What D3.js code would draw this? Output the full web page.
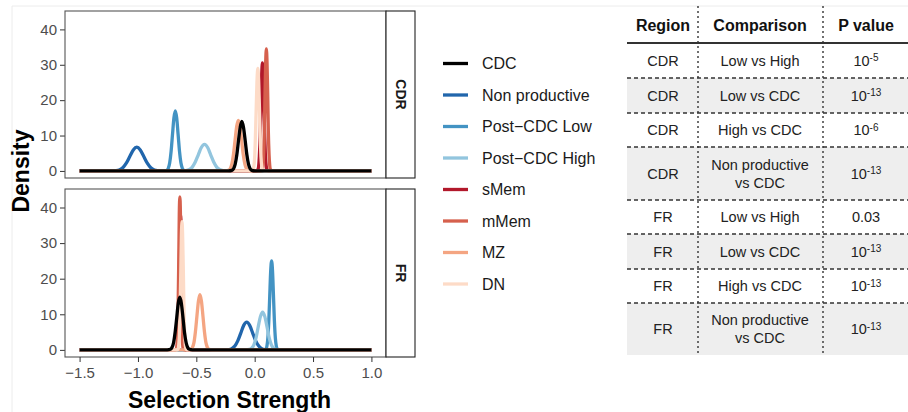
<!DOCTYPE html>
<html>
<head>
<meta charset="utf-8">
<script src="https://cdnjs.cloudflare.com/ajax/libs/d3/7.8.5/d3.min.js"></script>
<style>
  body { margin: 0; background: #fff; }
  text { font-family: "Liberation Sans", Arial, Helvetica, sans-serif; }
</style>
</head>
<body>
<script>
//__legend groups, in legend order__//
var groups = ['CDC', 'Non productive', 'Post\u2212CDC Low', 'Post\u2212CDC High', 'sMem', 'mMem', 'MZ', 'DN'];
var groupColors = ['#000000', '#2166ac', '#4393c3', '#92c5de', '#b2182b', '#d6604d', '#f4a582', '#fddbc7'];
var panels = ['CDR', 'FR'];
var xTicks = [-1.5, -1.0, -0.5, 0.0, 0.5, 1.0];
var yTicks = [0, 10, 20, 30, 40];

//__density curves, [selection strength, density]__//
var cdrNonProductive = [[-1.5,0],[-1.22,0],[-1.19,0.07],[-1.16,0.29],[-1.13,0.91],[-1.10,2.18],[-1.07,4.06],[-1.04,5.91],[-1.01,6.7],[-0.98,5.91],[-0.95,4.06],[-0.92,2.18],[-0.89,0.91],[-0.86,0.29],[-0.83,0.07],[-0.80,0],[1.0,0]];
var cdrPostLow = [[-1.5,0],[-0.776,0],[-0.752,0.19],[-0.74,0.75],[-0.728,2.3],[-0.716,5.52],[-0.704,10.31],[-0.692,15.0],[-0.68,17],[-0.668,15.0],[-0.656,10.31],[-0.644,5.52],[-0.632,2.3],[-0.62,0.75],[-0.608,0.19],[-0.584,0],[1.0,0]];
var cdrPostHigh = [[-1.5,0],[-0.615,0],[-0.589,0.08],[-0.563,0.33],[-0.536,1.01],[-0.51,2.44],[-0.483,4.55],[-0.457,6.62],[-0.43,7.5],[-0.403,6.62],[-0.377,4.55],[-0.35,2.44],[-0.324,1.01],[-0.297,0.33],[-0.271,0.08],[-0.245,0],[1.0,0]];
var cdrSMem = [[-1.5,0],[0.014,0],[0.027,0.34],[0.034,1.34],[0.040,4.13],[0.047,9.9],[0.053,18.5],[0.060,26.9],[0.066,30.5],[0.073,26.9],[0.079,18.5],[0.086,9.9],[0.092,4.13],[0.099,1.34],[0.105,0.34],[0.118,0],[1.0,0]];
var cdrMMem = [[-1.5,0],[0.053,0],[0.065,0.38],[0.071,1.52],[0.077,4.67],[0.083,11.2],[0.088,20.9],[0.094,30.4],[0.10,34.5],[0.106,30.4],[0.112,20.9],[0.117,11.2],[0.123,4.67],[0.129,1.52],[0.135,0.38],[0.147,0],[1.0,0]];
var cdrMZ = [[-1.5,0],[-0.252,0],[-0.224,0.16],[-0.21,0.63],[-0.196,1.93],[-0.182,4.65],[-0.168,8.67],[-0.154,12.6],[-0.14,14.3],[-0.126,12.6],[-0.112,8.67],[-0.098,4.65],[-0.084,1.93],[-0.07,0.63],[-0.056,0.16],[-0.028,0],[1.0,0]];
var cdrDN = [[-1.5,0],[-0.028,0],[-0.014,0.32],[-0.007,1.27],[0.0,3.92],[0.006,9.42],[0.013,17.6],[0.02,25.6],[0.027,29],[0.034,25.6],[0.041,17.6],[0.048,9.42],[0.054,3.92],[0.061,1.27],[0.068,0.32],[0.082,0],[1.0,0]];
var cdrCDC = [[-1.5,0],[-0.225,0],[-0.196,0.16],[-0.181,0.62],[-0.167,1.89],[-0.153,4.55],[-0.139,8.49],[-0.124,12.36],[-0.11,14],[-0.096,12.36],[-0.081,8.49],[-0.067,4.55],[-0.053,1.89],[-0.039,0.62],[-0.025,0.16],[0.004,0],[1.0,0]];

var frNonProductive = [[-1.5,0],[-0.272,0],[-0.221,0.09],[-0.196,0.34],[-0.17,1.06],[-0.145,2.53],[-0.119,4.73],[-0.094,6.88],[-0.068,7.8],[-0.043,6.88],[-0.017,4.73],[0.009,2.53],[0.035,1.06],[0.06,0.34],[0.085,0.09],[0.136,0],[1.0,0]];
var frPostLow = [[-1.5,0],[0.081,0],[0.097,0.28],[0.105,1.1],[0.113,3.38],[0.121,8.12],[0.129,15.16],[0.137,22.06],[0.145,25],[0.153,22.06],[0.161,15.16],[0.169,8.12],[0.177,3.38],[0.185,1.1],[0.193,0.28],[0.209,0],[1.0,0]];
var frPostHigh = [[-1.5,0],[-0.083,0],[-0.045,0.12],[-0.026,0.47],[-0.007,1.43],[0.012,3.44],[0.030,6.43],[0.049,9.35],[0.068,10.6],[0.087,9.35],[0.106,6.43],[0.124,3.44],[0.143,1.43],[0.162,0.47],[0.181,0.12],[0.219,0],[1.0,0]];
var frSMem = [[-1.5,0],[-0.678,0],[-0.667,0.42],[-0.661,1.67],[-0.656,5.14],[-0.651,12.34],[-0.646,23.05],[-0.640,33.5],[-0.635,38],[-0.630,33.5],[-0.625,23.05],[-0.619,12.34],[-0.614,5.14],[-0.609,1.67],[-0.604,0.42],[-0.593,0],[1.0,0]];
var frMMem = [[-1.5,0],[-0.678,0],[-0.669,0.47],[-0.664,1.89],[-0.66,5.82],[-0.655,13.96],[-0.65,26.08],[-0.646,37.95],[-0.641,43],[-0.636,37.95],[-0.632,26.08],[-0.627,13.96],[-0.622,5.82],[-0.618,1.89],[-0.613,0.47],[-0.604,0],[1.0,0]];
var frMZ = [[-1.5,0],[-0.572,0],[-0.546,0.17],[-0.533,0.68],[-0.52,2.1],[-0.508,5.03],[-0.495,9.4],[-0.482,13.68],[-0.469,15.5],[-0.456,13.68],[-0.443,9.4],[-0.43,5.03],[-0.418,2.1],[-0.405,0.68],[-0.392,0.17],[-0.366,0],[1.0,0]];
var frDN = [[-1.5,0],[-0.666,0],[-0.655,0.4],[-0.65,1.58],[-0.644,4.87],[-0.639,11.7],[-0.633,21.85],[-0.628,31.8],[-0.622,36],[-0.617,31.8],[-0.611,21.85],[-0.606,11.7],[-0.6,4.87],[-0.595,1.58],[-0.589,0.4],[-0.578,0],[1.0,0]];
var frCDC = [[-1.5,0],[-0.749,0],[-0.722,0.16],[-0.709,0.65],[-0.695,2.0],[-0.682,4.81],[-0.668,8.98],[-0.655,13.06],[-0.641,14.8],[-0.628,13.06],[-0.614,8.98],[-0.601,4.81],[-0.587,2.0],[-0.574,0.65],[-0.56,0.16],[-0.533,0],[1.0,0]];

//__table values__//
var tableHeader = ['Region', 'Comparison', 'P value'];
var tableRegion = ['CDR', 'CDR', 'CDR', 'CDR', 'FR', 'FR', 'FR', 'FR'];
var tableComparison = [['Low vs High'], ['Low vs CDC'], ['High vs CDC'], ['Non productive', 'vs CDC'],
                       ['Low vs High'], ['Low vs CDC'], ['High vs CDC'], ['Non productive', 'vs CDC']];
var tableBase = ['10', '10', '10', '10', '0.03', '10', '10', '10'];
var tableExp = ['-5', '-13', '-6', '-13', '', '-13', '-13', '-13'];

// curves per panel, drawn back to front (CDC on top)
var curves = {
    CDR: [[cdrNonProductive, 1], [cdrPostLow, 2], [cdrPostHigh, 3], [cdrSMem, 4], [cdrMMem, 5], [cdrMZ, 6], [cdrDN, 7], [cdrCDC, 0]],
    FR:  [[frNonProductive, 1], [frPostLow, 2], [frPostHigh, 3], [frSMem, 4], [frMMem, 5], [frMZ, 6], [frDN, 7], [frCDC, 0]]
};

var width = 908, height = 412;

var svg = d3.select('body').append('svg')
    .attr('width', width)
    .attr('height', height);

svg.append('rect').attr('width', width).attr('height', height).attr('fill', '#fff');
// faint border of the original image
svg.append('path')
    .attr('d', 'M12,412 V6 H908')
    .attr('fill', 'none')
    .attr('stroke', '#ececec')
    .attr('stroke-width', 1);

//__panel geometry__//
var plotLeft = 65, plotRight = 386, stripRight = 415;
var panelBox = { CDR: [11, 178], FR: [189, 357] };

var x = d3.scaleLinear()
    .domain([-1.625, 1.125])
    .range([plotLeft, plotRight]);

var line = d3.line()
    .x(function(d) { return x(d[0]); })
    .curve(d3.curveMonotoneX);

panels.forEach(function(p, i) {
    var top = panelBox[p][0], bottom = panelBox[p][1];
    var y = d3.scaleLinear()
        .domain([-2, 45.2])
        .range([bottom, top]);

    var g = svg.append('g');

    // y axis
    var yAxis = g.append('g')
        .attr('transform', 'translate(' + plotLeft + ',0)')
        .call(d3.axisLeft(y).tickValues(yTicks).tickSizeInner(5).tickSizeOuter(0).tickPadding(3));
    yAxis.select('.domain').remove();
    yAxis.selectAll('line').attr('stroke', '#333');
    yAxis.selectAll('text').attr('fill', '#4d4d4d').style('font-size', '15px')
        .style('font-family', '"Liberation Sans", Arial, sans-serif');

    // curves
    curves[p].forEach(function(c) {
        g.append('path')
            .datum(c[0])
            .attr('fill', 'none')
            .attr('stroke', groupColors[c[1]])
            .attr('stroke-width', 3.3)
            .attr('stroke-linejoin', 'round')
            .attr('d', line.y(function(d) { return y(d[1]); }));
    });

    // panel border
    g.append('rect')
        .attr('x', plotLeft).attr('y', top)
        .attr('width', plotRight - plotLeft).attr('height', bottom - top)
        .attr('fill', 'none').attr('stroke', '#555').attr('stroke-width', 1.1);

    // strip on the right
    g.append('rect')
        .attr('x', plotRight).attr('y', top)
        .attr('width', stripRight - plotRight).attr('height', bottom - top)
        .attr('fill', '#fff').attr('stroke', '#222').attr('stroke-width', 1.1);
    g.append('text')
        .attr('transform', 'translate(' + ((plotRight + stripRight) / 2 - 5) + ',' + ((top + bottom) / 2) + ') rotate(90)')
        .attr('text-anchor', 'middle')
        .style('font-size', '14px')
        .style('font-weight', 'bold')
        .attr('fill', '#1a1a1a')
        .text(p);

    // x axis only under the bottom panel
    if (i === panels.length - 1) {
        var xAxis = g.append('g')
            .attr('transform', 'translate(0,' + bottom + ')')
            .call(d3.axisBottom(x).tickValues(xTicks).tickSizeInner(5).tickSizeOuter(0).tickPadding(5)
                .tickFormat(function(d) { return d3.format('.1f')(d).replace('-', '\u2212'); }));
        xAxis.select('.domain').remove();
        xAxis.selectAll('line').attr('stroke', '#333');
        xAxis.selectAll('text').attr('fill', '#4d4d4d').style('font-size', '15px')
            .style('font-family', '"Liberation Sans", Arial, sans-serif');
    }
});

//__axis titles__//
svg.append('text')
    .attr('transform', 'translate(29,171) rotate(-90)')
    .attr('text-anchor', 'middle')
    .style('font-size', '23px')
    .style('font-weight', 'bold')
    .text('Density');

svg.append('text')
    .attr('x', (plotLeft + plotRight) / 2 + 4)
    .attr('y', 408)
    .attr('text-anchor', 'middle')
    .style('font-size', '23px')
    .style('font-weight', 'bold')
    .text('Selection Strength');

//__legend__//
var legend = svg.append('g');
groups.forEach(function(name, i) {
    var ly = 63.5 + i * 31.5;
    legend.append('line')
        .attr('x1', 443).attr('x2', 468)
        .attr('y1', ly).attr('y2', ly)
        .attr('stroke', groupColors[i])
        .attr('stroke-width', 3.3);
    legend.append('text')
        .attr('x', 482).attr('y', ly)
        .attr('dy', '0.36em')
        .style('font-size', '16px')
        .attr('fill', '#1a1a1a')
        .text(name);
});

//__table__//
var tLeft = 627, tRight = 908;
var colEdges = [tLeft, 698, 823, tRight];
var headerBottom = 43;
var rowHeights = [35, 35, 34, 53, 34, 35, 34, 52];
var table = svg.append('g');

var rowTops = [];
var acc = headerBottom;
rowHeights.forEach(function(h) { rowTops.push(acc); acc += h; });
var tableBottom = acc;

// shaded rows
rowTops.forEach(function(t, i) {
    if (i % 2 === 1) {
        table.append('rect')
            .attr('x', tLeft).attr('y', t)
            .attr('width', tRight - tLeft).attr('height', rowHeights[i])
            .attr('fill', '#eeeeee');
    }
});

// dashed row separators
rowTops.slice(1).forEach(function(t) {
    table.append('line')
        .attr('x1', tLeft).attr('x2', tRight)
        .attr('y1', t).attr('y2', t)
        .attr('stroke', '#333').attr('stroke-width', 1.4)
        .attr('stroke-dasharray', '4,3');
});

// header rule
table.append('line')
    .attr('x1', tLeft).attr('x2', tRight)
    .attr('y1', headerBottom).attr('y2', headerBottom)
    .attr('stroke', '#333').attr('stroke-width', 2);

// dotted column separators
[colEdges[1], colEdges[2]].forEach(function(cx) {
    table.append('line')
        .attr('x1', cx).attr('x2', cx)
        .attr('y1', 6).attr('y2', tableBottom)
        .attr('stroke', '#333').attr('stroke-width', 1.4)
        .attr('stroke-dasharray', '2,3');
});

var colCenters = [663, 760, 866];

tableHeader.forEach(function(h, i) {
    table.append('text')
        .attr('x', colCenters[i]).attr('y', 25)
        .attr('dy', '0.36em')
        .attr('text-anchor', 'middle')
        .style('font-size', '16px')
        .style('font-weight', 'bold')
        .attr('fill', '#111')
        .text(h);
});

rowTops.forEach(function(t, i) {
    var cy = t + rowHeights[i] / 2;
    table.append('text')
        .attr('x', colCenters[0]).attr('y', cy)
        .attr('dy', '0.36em')
        .attr('text-anchor', 'middle')
        .style('font-size', '14.5px')
        .attr('fill', '#222')
        .text(tableRegion[i]);

    var lines = tableComparison[i];
    lines.forEach(function(l, j) {
        table.append('text')
            .attr('x', colCenters[1])
            .attr('y', cy + (j - (lines.length - 1) / 2) * 18)
            .attr('dy', '0.36em')
            .attr('text-anchor', 'middle')
            .style('font-size', '14.5px')
            .attr('fill', '#222')
            .text(l);
    });

    var pv = table.append('text')
        .attr('x', colCenters[2]).attr('y', cy)
        .attr('dy', '0.36em')
        .attr('text-anchor', 'middle')
        .style('font-size', '14.5px')
        .attr('fill', '#222');
    pv.append('tspan').text(tableBase[i]);
    if (tableExp[i]) {
        pv.append('tspan')
            .attr('dy', '-0.45em')
            .style('font-size', '10px')
            .text(tableExp[i]);
    }
});
</script>
</body>
</html>
